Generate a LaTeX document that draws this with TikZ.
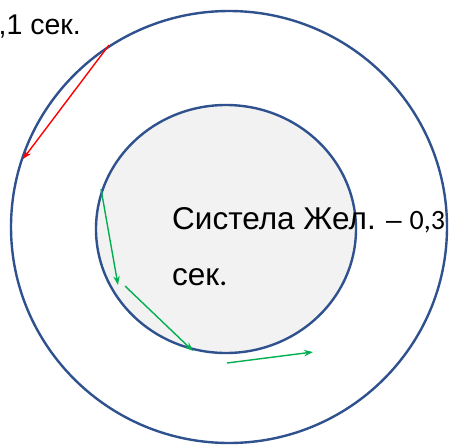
\documentclass[tikz,border=0pt]{standalone}
\usepackage{fontspec}
\setmainfont{Liberation Sans}
\newfontfamily\numfont{Carlito}
\usetikzlibrary{arrows.meta}
\definecolor{ringblue}{HTML}{2F528F}
\definecolor{coregray}{HTML}{F2F2F2}
\definecolor{movegreen}{HTML}{00B050}
\tikzset{
  ring/.style={draw=ringblue, line width=2.4pt},
  vec/.style={line width=1.4pt, -{Stealth[length=9pt,width=6.5pt,inset=3pt]}},
  label/.style={inner sep=0pt, font=\fontsize{31.5}{36}\selectfont}
}
\begin{document}
\begin{tikzpicture}[x=1pt,y=-1pt]
\clip (0,0) rectangle (449,447);
\fill[white] (0,0) rectangle (449,447);
% outer orbit and inner core
\draw[ring] (229,227) ellipse [x radius=218, y radius=216];
\draw[ring, fill=coregray] (226,229) ellipse [x radius=130, y radius=124];
% vectors
\coordinate (r1) at (109,45);
\coordinate (r2) at (23,159);
\draw[vec, red] (r1) -- (r2);
\coordinate (g1) at (101,189);
\coordinate (g2) at (118,285);
\coordinate (g3) at (125,286);
\coordinate (g4) at (193,351);
\coordinate (g5) at (227,363);
\coordinate (g6) at (313,352);
\draw[vec, movegreen] (g1) -- (g2);
\draw[vec, movegreen] (g3) -- (g4);
\draw[vec, movegreen] (g5) -- (g6);
% captions
\node[label, anchor=base east, font=\fontsize{28.5}{34}\selectfont] (t1) at (81,34) {0,1 сек.};
\node[label, anchor=base west] (t2) at (172,229) {Систела Жел.};
\node[label, anchor=base west, font=\fontsize{28}{34}\selectfont] (t3) at (386,229) {– {\numfont 0,3}};
\node[label, anchor=base west] (t4) at (172,285) {сек{\numfont.}};
\end{tikzpicture}
\end{document}
